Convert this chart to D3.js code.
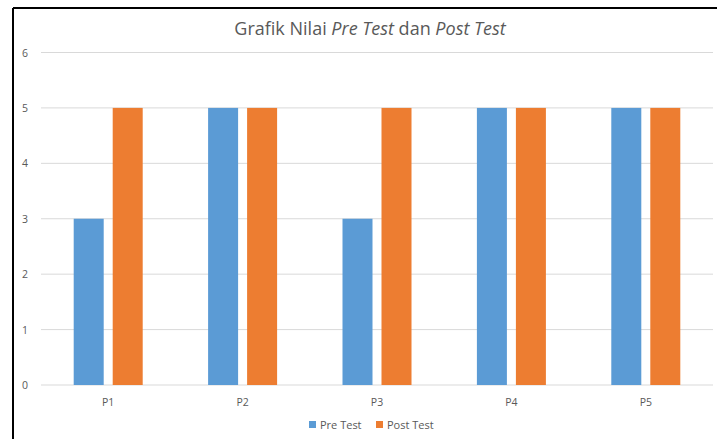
<!DOCTYPE html>
<html>
<head>
<meta charset="utf-8">
<script src="https://cdn.jsdelivr.net/npm/d3@7"></script>
<style>
	body { margin: 0; background: #fff; }
	svg { display: block; font-family: "Open Sans", "Noto Sans", sans-serif; }
</style>
</head>
<body>
<div id="chart"></div>
<script>
// Chart data
var categories = ["P1", "P2", "P3", "P4", "P5"];
var seriesNames = ["Pre Test", "Post Test"];
var preTest = [3, 5, 3, 5, 5];
var postTest = [5, 5, 5, 5, 5];
var yTicks = [0, 1, 2, 3, 4, 5, 6];
var colors = ["#5b9bd5", "#ed7d31"];

function bar_chart(div_id) {
	var W = 717, H = 439;
	var left = 41, right = 713, top = 52.5, bottom = 385;

	var svg = d3.select('#' + div_id).append("svg")
		.attr("width", W)
		.attr("height", H);

	// frame (only top and left edges are visible in the crop)
	svg.append("line").attr("x1", 13).attr("x2", W).attr("y1", 8).attr("y2", 8)
		.attr("stroke", "#000").attr("stroke-width", 2);
	svg.append("line").attr("x1", 13).attr("x2", 13).attr("y1", 8).attr("y2", H)
		.attr("stroke", "#000").attr("stroke-width", 2);

	var x = d3.scaleBand().domain(categories).range([left, right]);
	var y = d3.scaleLinear().domain([0, 6]).range([bottom, top]);

	// gridlines
	svg.append("g").selectAll("line")
		.data(yTicks)
		.enter().append("line")
		  .attr("x1", left).attr("x2", right)
		  .attr("y1", function(d) { return y(d); })
		  .attr("y2", function(d) { return y(d); })
		  .attr("stroke", "#d9d9d9").attr("stroke-width", 1);

	// y tick labels
	svg.append("g").selectAll("text")
		.data(yTicks)
		.enter().append("text")
		  .attr("x", 25)
		  .attr("y", function(d) { return y(d) + 4; })
		  .attr("text-anchor", "middle")
		  .attr("font-size", 10.5)
		  .attr("fill", "#595959")
		  .text(function(d) { return d; });

	// bars
	var barW = 30, gap = 9;
	var sub = d3.scaleOrdinal().domain([0, 1])
		.range([-(gap / 2) - barW, gap / 2]);
	var series = [preTest, postTest];
	series.forEach(function(vals, si) {
		svg.append("g").selectAll("rect")
			.data(vals)
			.enter().append("rect")
			  .attr("x", function(d, i) { return x(categories[i]) + x.bandwidth() / 2 + sub(si); })
			  .attr("y", function(d) { return y(d); })
			  .attr("width", barW)
			  .attr("height", function(d) { return y(0) - y(d); })
			  .attr("fill", colors[si]);
	});

	// x axis labels
	svg.append("g").selectAll("text")
		.data(categories)
		.enter().append("text")
		  .attr("x", function(d) { return x(d) + x.bandwidth() / 2; })
		  .attr("y", 406)
		  .attr("text-anchor", "middle")
		  .attr("font-size", 10.5)
		  .attr("fill", "#595959")
		  .text(function(d) { return d; });

	// title
	var title = svg.append("text")
		.attr("x", 370).attr("y", 35)
		.attr("text-anchor", "middle")
		.attr("font-size", 18)
		.attr("fill", "#595959");
	title.append("tspan").text("Grafik Nilai ");
	title.append("tspan").attr("font-style", "italic").text("Pre Test");
	title.append("tspan").text(" dan ");
	title.append("tspan").attr("font-style", "italic").text("Post Test");

	// legend
	var lx = [309, 376];
	seriesNames.forEach(function(name, i) {
		svg.append("rect").attr("x", lx[i]).attr("y", 421)
			.attr("width", 7).attr("height", 7).attr("fill", colors[i]);
		svg.append("text").attr("x", lx[i] + 11).attr("y", 429)
			.attr("font-size", 11).attr("fill", "#595959").text(name);
	});
} // bar_chart

bar_chart("chart");
</script>
</body>
</html>
